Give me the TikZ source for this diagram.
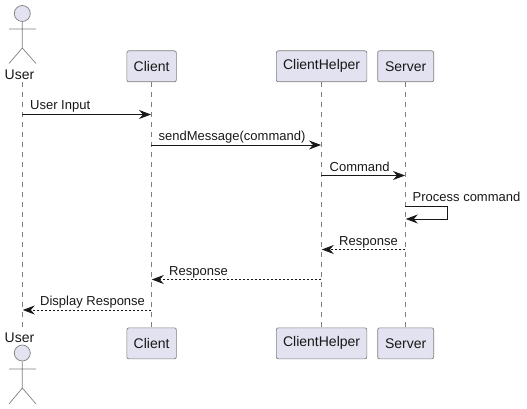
\documentclass[tikz,border=0pt]{standalone}
\usepackage{fontspec}
\setmainfont{Liberation Sans}
\usetikzlibrary{arrows.meta}
\definecolor{pfill}{HTML}{E2E2F0}
\definecolor{pline}{HTML}{7F7F7F}
\definecolor{ink}{HTML}{181818}
\tikzset{
 x=1pt,y=-1pt,
 pbox/.style={draw=pline,fill=pfill,line width=0.7pt,rounded corners=2pt,minimum height=31pt,inner sep=0pt,anchor=north west,font=\fontsize{14}{16}\selectfont,text=ink},
 lifeline/.style={draw=pline,line width=0.6pt,dash pattern=on 5pt off 5pt},
 msg/.style={draw=ink,line width=0.8pt,-{Stealth[length=12pt,width=9pt,inset=4pt]}},
 reply/.style={msg,dash pattern=on 2pt off 2pt},
 mlabel/.style={font=\fontsize{13}{15}\selectfont,text=ink,inner sep=0pt,anchor=base west},
 actorname/.style={font=\fontsize{14}{16}\selectfont,text=ink,inner sep=0pt,anchor=base},
 actorbody/.style={draw=pline,line width=0.7pt},
 actorhead/.style={draw=pline,fill=pfill,line width=0.7pt,circle,minimum size=16pt,inner sep=0pt},
}
\begin{document}
\begin{tikzpicture}
\useasboundingbox (0,0) rectangle (527,409);
% participants
\node[pbox,minimum width=49.5pt] (clientT) at (126.5,50.5) {Client};
\node[pbox,minimum width=90.5pt] (helperT) at (276,50.5) {ClientHelper};
\node[pbox,minimum width=56pt] (serverT) at (377.3,50.5) {Server};
\node[pbox,minimum width=49.5pt] (clientB) at (126.5,327.5) {Client};
\node[pbox,minimum width=90.5pt] (helperB) at (276,327.5) {ClientHelper};
\node[pbox,minimum width=56pt] (serverB) at (377.3,327.5) {Server};
% actor names
\node[actorname] (userT) at (19.5,80) {User};
\node[actorname] (userB) at (19.5,342) {User};
\coordinate (uT) at (22.3,82);
\coordinate (uB) at (22.3,327);
% lifelines
\draw[lifeline] (uT) -- (uB);
\draw[lifeline] (clientT.south) -- (clientB.north);
\draw[lifeline] (helperT.south) -- (helperB.north);
\draw[lifeline] (serverT.south) -- (serverB.north);
% actor top
\node[actorhead] (headT) at (22.3,13.5) {};
\draw[actorbody] (headT.south) -- (22.3,48) (9,29) -- (36,29) (9,63.5) -- (22.3,48) -- (36,63.5);
% actor bottom
\node[actorhead] (headB) at (22.3,353) {};
\draw[actorbody] (headB.south) -- (22.3,388) (9,369) -- (36,369) (9,404) -- (22.3,388) -- (36,404);
% message points
\coordinate (a1) at (22.3,114.5); \coordinate (b1) at (151,114.5);
\coordinate (a2) at (151.3,145); \coordinate (b2) at (321,145);
\coordinate (a3) at (321.3,175.5); \coordinate (b3) at (405,175.5);
\coordinate (a4) at (405.3,206); \coordinate (b4) at (405.8,219);
\coordinate (a5) at (405.3,249.5); \coordinate (b5) at (321.8,249.5);
\coordinate (a6) at (321.3,279.5); \coordinate (b6) at (151.8,279.5);
\coordinate (a7) at (151.3,310); \coordinate (b7) at (22.8,310);
\draw[msg] (a1) -- (b1);
\draw[msg] (a2) -- (b2);
\draw[msg] (a3) -- (b3);
\draw[msg] (a4) -- (447.5,206) -- (447.5,219) -- (b4);
\draw[reply] (a5) -- (b5);
\draw[reply] (a6) -- (b6);
\draw[reply] (a7) -- (b7);
% labels
\node[mlabel] (l1) at (30,110) {User Input};
\node[mlabel] (l2) at (158.5,140.5) {sendMessage(command)};
\node[mlabel] (l3) at (329.5,171) {Command};
\node[mlabel] (l4) at (412.5,201) {Process command};
\node[mlabel] (l5) at (339,245) {Response};
\node[mlabel] (l6) at (169,275) {Response};
\node[mlabel] (l7) at (40,305.5) {Display Response};
\end{tikzpicture}
\end{document}
